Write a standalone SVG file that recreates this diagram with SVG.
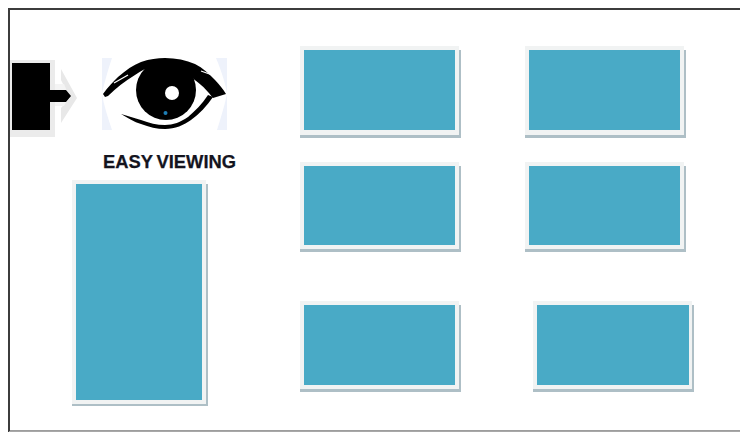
<svg xmlns="http://www.w3.org/2000/svg" width="740" height="432" viewBox="0 0 740 432">
<style>
.shadow{fill:#aebfc6}
.frame{fill:#f1f3f3}
.fill{fill:#4aaac6}
.label{font-family:"Liberation Sans",Arial,sans-serif;font-weight:700;font-size:18px;word-spacing:-1.200px;fill:#14141e;stroke:#14141e;stroke-width:0.25px}
</style>
<defs>
<filter id="soft" x="-5%" y="-5%" width="110%" height="110%"><feGaussianBlur stdDeviation="0.55"/></filter>
</defs>
<rect width="740" height="432" fill="#fff"/>
<path d="M740 9H9V431.500H740" fill="none" stroke="#3c3c3c" stroke-width="2"/>
<path d="M9 431.500H740" stroke="#a8a8a8" stroke-width="1" fill="none"/>
<g id="connectors"></g>
<g id="arrow-node" filter="url(#soft)">
<path d="M10 60H55V137H10Z" fill="#ebebeb"/>
<path d="M61 69L77 98L61 123V108L70 98L61 80Z" fill="#e8e8e8"/>
<path d="M55 84H64L69 96L64 106H55Z" fill="#f4f4f4"/>
<path d="M12 63H50V90H66L71 96L66 102H50V130H12Z" fill="#000"/>
</g>
<g id="eye-node">
<g filter="url(#soft)">
<rect x="102" y="58" width="125" height="72" fill="#eef2fb"/>
<path d="M112 58H216C222 72 226 86 227 94C224 108 220 120 217 130H112C108 118 104 106 102 94C104 84 108 70 112 58Z" fill="#fff"/>
<path d="M103 94C108 87 113 82 118 77C126 70 133 65 141 62C150 59 157 58 165 58C176 58 186 60 195 64C203 68 209 74 215 80C219 84 223 89 226 94L213 98C211 96 210 94 208 92C202 85 195 80 188 75C180 72 150 70 145 69C141 71 138 73 135 75C125 81 116 88 108 96L105 97Z" fill="#000"/>
<path d="M121 114C128 118 134 122 141 124C149 127 157 129 165 129C175 129 184 125 191 120C199 114 207 106 213 97L208 95C202 104 195 111 188 117C181 122 173 125 165 125C157 125 149 123 141 120C134 118 128 116 121 114Z" fill="#000"/>
<circle cx="166" cy="90" r="30" fill="#000"/>
<circle cx="172" cy="93" r="7" fill="#fff"/>
<circle cx="165.500" cy="113" r="2" fill="#1f7fb5"/>
<path d="M114 83L128 75" stroke="#fff" stroke-width="1.200" fill="none"/>
<path d="M201 71L215 76" stroke="#fff" stroke-width="1.200" fill="none"/>
</g>
<text class="label" x="103" y="168" textLength="133" lengthAdjust="spacingAndGlyphs">EASY VIEWING</text>
</g>
<g id="box-tall" filter="url(#soft)"><rect class="shadow" x="72" y="184" width="136" height="222"/><rect class="frame" x="72" y="180" width="134" height="224"/><rect class="fill" x="76" y="184" width="126" height="216"/></g>
<g id="box-1" filter="url(#soft)"><rect class="shadow" x="300" y="50" width="161" height="88"/><rect class="frame" x="300" y="46" width="159" height="89"/><rect class="fill" x="304" y="50" width="151" height="80"/></g>
<g id="box-2" filter="url(#soft)"><rect class="shadow" x="525" y="50" width="161" height="88"/><rect class="frame" x="525" y="46" width="159" height="89"/><rect class="fill" x="529" y="50" width="151" height="80"/></g>
<g id="box-3" filter="url(#soft)"><rect class="shadow" x="300" y="166" width="161" height="86"/><rect class="frame" x="300" y="162" width="159" height="87"/><rect class="fill" x="304" y="166" width="151" height="79"/></g>
<g id="box-4" filter="url(#soft)"><rect class="shadow" x="525" y="166" width="161" height="86"/><rect class="frame" x="525" y="162" width="159" height="87"/><rect class="fill" x="529" y="166" width="151" height="79"/></g>
<g id="box-5" filter="url(#soft)"><rect class="shadow" x="300" y="305" width="161" height="87"/><rect class="frame" x="300" y="301" width="159" height="88"/><rect class="fill" x="304" y="305" width="151" height="80"/></g>
<g id="box-6" filter="url(#soft)"><rect class="shadow" x="533" y="305" width="161" height="87"/><rect class="frame" x="533" y="301" width="159" height="88"/><rect class="fill" x="537" y="305" width="152" height="80"/></g>
</svg>
